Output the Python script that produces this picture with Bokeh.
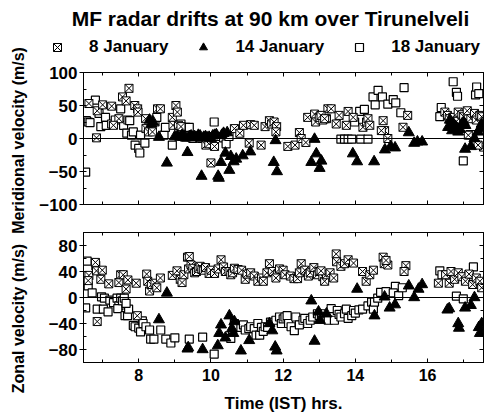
import math
import numpy as np
from bokeh.plotting import figure
from bokeh.layouts import column, row
from bokeh.models import (Span, Label, Legend, LegendItem, LinearAxis,
                          SingleIntervalTicker, Range1d, CustomJSTickFormatter)
from bokeh.embed import file_html
from bokeh.resources import INLINE

# ---------------- data ----------------
TITLE = "MF radar drifts at 90 km over Tirunelveli"
SERIES_LABELS = ["8 January", "14 January", "18 January"]
X_LABEL = "Time (IST) hrs."
Y_LABEL_TOP = "Meridional velocity (m/s)"
Y_LABEL_BOTTOM = "Zonal velocity (m/s)"

# Meridional velocity (top panel)
jan8_mer_t = [6.62, 6.83, 6.85, 7.0, 7.25, 7.45, 7.3, 7.55, 7.65, 7.73, 7.89, 7.97, 7.98,
              8.19, 8.2, 8.27, 8.38, 8.52, 8.6, 8.93, 9.03, 9.07, 8.95, 9.1, 9.17, 9.3,
              9.5, 9.7, 9.86, 9.94, 10.1, 10.0, 10.65, 10.8, 10.9, 11.06, 11.1, 11.2, 11.39,
              11.5, 11.62, 11.68, 11.75, 11.82, 11.8, 12.13, 12.33, 12.45, 12.5, 12.63,
              12.68, 12.87, 12.9, 13.0, 13.24, 13.2, 13.1, 13.05, 13.15, 13.33, 13.47,
              13.55, 13.75, 13.8, 13.94, 14.21, 14.31, 14.35, 14.4, 14.77, 14.81, 14.72,
              14.9, 15.32, 15.45, 16.48, 16.55, 16.6, 16.7, 16.8, 16.85, 16.95, 17.0,
              17.1, 17.13, 17.2, 17.3, 17.35, 17.45, 17.5, 17.55, 17.4]
jan8_mer_v = [53, 1, 42, 51, 49, 30, 20, 63, 57, 76, 50, 45, 40,
              30, 15, 10, 10, 45, 45, 32, 50, 40, 20, 20, 18, 2,
              0, 1, -10, -8, -12, -37, 15, 8, 20, -7, 21, 20, -10,
              18, 27, 22, 25, 18, 10, -12, -10, 9, 0, -6,
              32, 37, 25, 32, 45, 30, 28, 35, 30, 45, 22,
              35, 20, 41, 32, 17, 25, 30, 20, 27, 12, 12,
              0, 17, 35, 40, 35, 30, 32, 26, 40, 36, 33,
              42, 5, 30, 38, 28, 35, 33, -13, -10]

jan14_mer_t = [8.3, 8.35, 8.4, 8.56, 8.78, 9.0, 9.08, 9.15, 9.2, 9.25, 9.3, 9.35, 9.4,
               9.45, 9.5, 9.55, 9.6, 9.65, 9.7, 9.74, 9.8, 9.85, 9.9, 9.95, 10.0, 10.05,
               10.1, 10.15, 10.2, 10.22, 10.28, 10.3, 10.35, 10.4, 10.45, 10.51, 10.55,
               10.63, 10.7, 10.88, 11.09, 11.74, 11.79, 11.83, 12.78, 12.87, 12.92, 13.01,
               13.06, 13.93, 14.05, 14.52, 14.82, 14.98, 15.1, 15.48, 15.63, 15.72, 15.85,
               16.57, 16.62, 16.65, 16.68, 16.72, 16.78, 16.85, 16.9, 16.95, 17.0, 17.04,
               17.05, 17.2, 17.3, 17.4, 17.45, 17.5]
jan14_mer_v = [28, 22, 25, 2, -37, 3, 4, 2, 5, 2, 1, -21, 3,
               4, 2, 3, 1, 5, 4, -57, 2, 3, 1, 2, 0, 4,
               5, 6, -57, -60, -36, 5, 8, -22, 9, -48, -27,
               -35, -31, -26, -20, -36, -3, -50, -36, -1, -23, -45,
               -34, -23, -35, -35, -17, -12, -14, 9, -7, -5, -5,
               17, 28, 20, 12, 22, 18, 10, 14, 22, 25, -16,
               20, -12, 0, 10, 15, 22]

jan18_mer_t = [6.53, 6.55, 6.6, 6.65, 6.8, 6.9, 6.95, 7.08, 7.1, 7.25, 7.35, 7.5, 7.58,
               7.67, 7.7, 7.75, 7.8, 7.85, 7.9, 8.0, 8.03, 8.05, 8.17, 8.4, 8.45, 8.5,
               8.7, 8.74, 8.93, 9.17, 9.3, 9.4, 9.45, 9.6, 9.75, 9.9, 10.09, 10.2, 10.35,
               10.42, 10.5, 13.05, 13.6, 13.7, 13.8, 13.9, 13.98, 14.12, 14.15, 14.25,
               14.35, 14.49, 14.55, 14.63, 14.75, 14.9, 15.05, 15.12, 15.26, 15.35,
               16.34, 16.38, 16.71, 16.8, 16.83, 16.99, 17.18, 17.25, 17.33, 17.36, 17.42]
jan18_mer_v = [-51, 27, 25, 24, 58, 38, 18, 32, 20, 22, 28, 45, 20,
               8, 28, 27, 5, 10, -10, -15, -22, 5, -7, 28, 25, 32,
               5, 17, -10, 22, 17, 17, 2, 1, 0, 2, 25, 3, 1,
               -8, 3, 30, -1, -1, -1, -1, 25, 41, -1, 44,
               -1, 63, 51, 73, 63, 52, 59, 54, 39, 77,
               33, 47, 86, 70, 64, -34, 6, 6, 66, 78, 68]

# Zonal velocity (bottom panel)
jan8_zon_t = [6.62, 6.6, 6.81, 6.8, 6.83, 6.99, 6.95, 6.85, 7.17, 7.45, 7.5, 7.57, 7.65,
              7.7, 7.93, 7.96, 8.22, 8.25, 8.3, 8.35, 8.45, 8.5, 8.6, 8.93, 9.06, 9.15,
              9.2, 9.25, 9.35, 9.38, 9.4, 9.45, 9.5, 9.55, 9.6, 9.65, 9.7, 9.75, 9.8, 9.85,
              9.95, 10.0, 10.1, 10.2, 10.28, 10.35, 10.4, 10.5, 10.55, 10.6, 10.65, 10.75,
              10.85, 10.95, 11.0, 11.1, 11.2, 11.3, 11.4, 11.45, 11.55, 11.62, 11.7, 11.85,
              11.9, 12.0, 12.05, 11.8, 12.2, 12.3, 12.4, 12.45, 12.5, 12.6, 12.7, 12.75,
              12.85, 12.95, 13.0, 13.1, 13.15, 13.2, 13.05, 13.3, 13.4,
              13.47, 13.48, 13.6, 13.7, 13.8, 13.95, 14.2, 14.3, 14.4, 14.5, 14.77, 14.8,
              14.9, 14.85, 15.4, 15.35, 16.3, 16.6, 16.5, 16.65, 16.75, 16.85, 16.95,
              17.05, 17.15, 17.25, 17.35, 17.45, 17.5]
jan8_zon_v = [34, 26, 49, 54, 41, 42, 28, -37, 21, 23, 35, 35, 13,
              27, 22, -28, 36, 25, 10, 20, 22, 15, 30, 34, 41, 28,
              23, 35, 62, 44, 63, 50, 45, 38, 40, 45, 48, 43, 42, 46,
              37, 42, 37, 44, 58, 47, 40, 40, 35, 38, 45, 43,
              42, 28, 36, 38, 33, 25, 30, 25, 38, 52, 40, 36,
              44, 42, 35, 30, 33, 29, 29, 38, 52, 42, 33, 38,
              46, 35, 40, 32, 25, 35, 41, 38, 30,
              67, 55, 48, 52, 58, 53, 40, 25, 35, 42, 62, 52,
              50, 57, 49, 40, 22, 22, 35, 40, 28, 38, 32,
              25, 36, 20, 30, 25, 15]

jan14_zon_t = [8.56, 8.78, 9.35, 9.37, 9.77, 10.19, 10.23, 10.28, 10.4, 10.51, 10.58,
               10.62, 10.65, 10.83, 11.06, 11.62, 11.7, 11.78, 11.82, 12.78, 12.87,
               12.98, 13.02, 13.2, 14.05, 14.53, 14.81, 14.95, 15.1, 15.48, 15.63,
               15.75, 15.85, 16.55, 16.6, 16.85, 16.87, 17.04, 17.2, 17.3, 17.42,
               17.45, 17.5]
jan14_zon_v = [-34, 7, -79, -77, -80, -74, -55, -42, -62, -28, -48,
               -55, -37, -82, -66, -40, -51, -76, -82, -5, -67,
               -22, -35, -25, 13, -28, 1, -16, -11, 18, 0,
               13, 20, -19, -17, -40, -47, -16, -12, 0, -46,
               -55, -40]

jan18_zon_t = [6.53, 6.57, 6.6, 6.71, 6.85, 6.97, 7.05, 7.02, 7.15, 7.2, 7.3, 7.4, 7.45,
               7.5, 7.42, 7.55, 7.6, 7.62, 7.69, 7.72, 7.65, 7.85, 7.9, 8.0, 8.05, 8.1,
               8.12, 8.2, 8.3, 8.33, 8.42, 8.61, 8.75, 8.89, 9.0, 9.4, 9.77, 10.09,
               10.55, 10.6, 10.65, 10.7, 10.83, 10.9, 10.95, 11.05, 11.1, 11.2, 11.25,
               11.3, 11.35, 11.4, 11.45, 11.5, 11.57, 11.65, 11.8, 11.9, 11.95, 12.0,
               12.05, 12.11, 12.15, 12.22, 12.31, 12.35, 12.45, 12.55, 12.6, 12.68, 12.75,
               12.82, 12.95, 13.0, 13.06, 13.15, 13.25, 13.33, 13.42, 13.5, 13.55, 13.6,
               13.7, 13.75, 13.8, 13.9, 13.95, 14.0, 14.1, 14.2, 14.35, 14.45, 14.5,
               14.53, 14.62, 14.7, 14.85, 15.11, 15.05, 15.2, 15.3, 16.34, 16.4, 16.8,
               16.99, 17.27, 17.15, 17.4]
jan18_zon_v = [-16, 56, 18, 7, -18, 1, -1, -18, -22, -4, -8, -1, -13,
               -1, -17, -5, -1, -28, -28, -18, -9, -43, -45, -47, -53, -36,
               -40, -45, -50, -64, -64, -50, -64, -70, -62, -64, -61, -87,
               -63, -53, -40, -46, -46, -42, -50, -48, -45, -48, -58,
               -40, -58, -46, -52, -45, -46, -38, -35, -30, -40, -33,
               -30, -28, -40, -45, -51, -30, -42, -35, -32, -40, -35,
               -30, -25, -28, -30, -25, -35, -17, -35, -20, -26, -30,
               -25, -18, -32, -28, -20, -24, -19, -18, -13, -7, -18,
               -7, -1, 8, 9, 17, 7, 3, 15, 41, 35, 2,
               -2, 47, 35, 20]

# ---------------- layout constants ----------------
FONT = "Liberation Sans"
PAGE_W, PAGE_H = 484, 418
LABEL_W = 36                 # strip holding the rotated y labels
MAIN_W = PAGE_W - LABEL_W
FRAME_LEFT = 83              # page x of the plot frames
HEADER_H = 62
X_RANGE = (6.47, 17.55)
BLANK = CustomJSTickFormatter(code="return ''")

STYLE_8 = dict(marker="square_x", size=8, fill_color="white", line_color="black", line_width=1)
STYLE_14 = dict(marker="triangle", size=11, fill_color="black", line_color="black")
STYLE_18 = dict(marker="square", size=8, fill_color="white", line_color="black", line_width=1.2)


def style_axis(ax, labels=True, size="17px"):
    ax.axis_line_color = "black"
    ax.major_tick_line_color = "black"
    ax.minor_tick_line_color = "black"
    ax.major_label_text_font = FONT
    ax.major_label_text_font_style = "bold"
    ax.major_label_text_color = "black"
    ax.major_label_text_font_size = size
    if not labels:
        ax.formatter = BLANK
        ax.major_label_standoff = 0


def make_panel(height, ylo, yhi, yint, top_border, bottom_border, show_x):
    p = figure(width=MAIN_W, height=height, output_backend="svg", toolbar_location=None,
               x_range=Range1d(*X_RANGE), y_range=Range1d(ylo, yhi),
               min_border_left=FRAME_LEFT - LABEL_W, min_border_right=1,
               min_border_top=top_border, min_border_bottom=bottom_border)
    p.grid.visible = False
    p.outline_line_color = "black"

    xa = p.below[0]
    xa.ticker = SingleIntervalTicker(interval=2, num_minor_ticks=2)
    style_axis(xa, labels=show_x, size="16px")
    xa.major_tick_in, xa.major_tick_out = 4, 0
    xa.minor_tick_in, xa.minor_tick_out = 3, 0
    if show_x:
        xa.major_label_standoff = 6

    ya = p.left[0]
    ya.ticker = SingleIntervalTicker(interval=yint, num_minor_ticks=2)
    style_axis(ya, labels=True, size="17px")
    ya.major_tick_in, ya.major_tick_out = 0, 4
    ya.minor_tick_in, ya.minor_tick_out = 3, 0
    ya.major_label_standoff = 2

    top = LinearAxis(ticker=SingleIntervalTicker(interval=2, num_minor_ticks=2))
    right = LinearAxis(ticker=SingleIntervalTicker(interval=yint, num_minor_ticks=2))
    for ax in (top, right):
        style_axis(ax, labels=False, size="1px")
        ax.major_tick_in, ax.major_tick_out = 4, 0
        ax.minor_tick_in, ax.minor_tick_out = 3, 0
    p.add_layout(top, "above")
    p.add_layout(right, "right")

    p.add_layout(Span(location=0, dimension="width", line_color="black", line_width=1))
    return p


def draw_series(p, t8, v8, t14, v14, t18, v18):
    r18 = p.scatter(t18, v18, **STYLE_18)
    r8 = p.scatter(t8, v8, **STYLE_8)
    r14 = p.scatter(t14, v14, **STYLE_14)
    return r8, r14, r18


def blank_fig(width, height, xr, yr):
    f = figure(width=width, height=height, output_backend="svg", toolbar_location=None,
               x_range=Range1d(*xr), y_range=Range1d(*yr), min_border=0,
               x_axis_type=None, y_axis_type=None)
    f.grid.visible = False
    f.outline_line_color = None
    f.frame_align = False
    return f


# ---------------- header: title + legend (page-pixel coordinates) ----------------
hdr = blank_fig(MAIN_W, HEADER_H, (LABEL_W, PAGE_W), (HEADER_H, 0))
nan = np.array([np.nan])
h8 = hdr.scatter(nan, nan, **STYLE_8)
h14 = hdr.scatter(nan, nan, **STYLE_14)
h18 = hdr.scatter(nan, nan, **STYLE_18)
hdr.add_layout(Label(x=270, y=18, text=TITLE, text_font=FONT, text_font_size="21px",
                     text_font_style="bold", text_align="center", text_baseline="middle",
                     text_color="black"))
legend = Legend(items=[LegendItem(label=SERIES_LABELS[0], renderers=[h8]),
                       LegendItem(label=SERIES_LABELS[1], renderers=[h14]),
                       LegendItem(label=SERIES_LABELS[2], renderers=[h18])],
                orientation="horizontal", location=(47 - LABEL_W, 5),
                glyph_width=20, glyph_height=20, label_standoff=22, spacing=25,
                padding=0, margin=0, border_line_alpha=0, background_fill_alpha=0,
                label_text_font=FONT, label_text_font_size="17px",
                label_text_font_style="bold", label_text_color="black")
hdr.add_layout(legend)

# ---------------- y-label strip ----------------
side = blank_fig(LABEL_W, PAGE_H, (0, LABEL_W), (PAGE_H, 0))
side.add_layout(Label(x=18, y=140, text=Y_LABEL_TOP, angle=math.pi / 2, text_font=FONT,
                      text_font_size="16px", text_font_style="bold", text_align="center",
                      text_baseline="middle", text_color="black"))
side.add_layout(Label(x=18, y=318, text=Y_LABEL_BOTTOM, angle=math.pi / 2, text_font=FONT,
                      text_font_size="16px", text_font_style="bold", text_align="center",
                      text_baseline="middle", text_color="black"))

# ---------------- top panel ----------------
p1 = make_panel(218 - HEADER_H, -100, 100, 50, 72 - HEADER_H, 14, show_x=False)
draw_series(p1, jan8_mer_t, jan8_mer_v, jan14_mer_t, jan14_mer_v,
            jan18_mer_t, jan18_mer_v)

# ---------------- bottom panel ----------------
p2 = make_panel(200, -100, 100, 40, 14, 56, show_x=True)
draw_series(p2, jan8_zon_t, jan8_zon_v, jan14_zon_t, jan14_zon_v,
            jan18_zon_t, jan18_zon_v)
xb = p2.below[0]
xb.axis_label = X_LABEL
xb.axis_label_text_font = FONT
xb.axis_label_text_font_size = "17px"
xb.axis_label_text_font_style = "bold"
xb.axis_label_text_color = "black"
xb.axis_label_standoff = 10

layout = row(side, column(hdr, p1, p2, spacing=0), spacing=0)
open("out.html", "w").write(file_html(layout, INLINE))
